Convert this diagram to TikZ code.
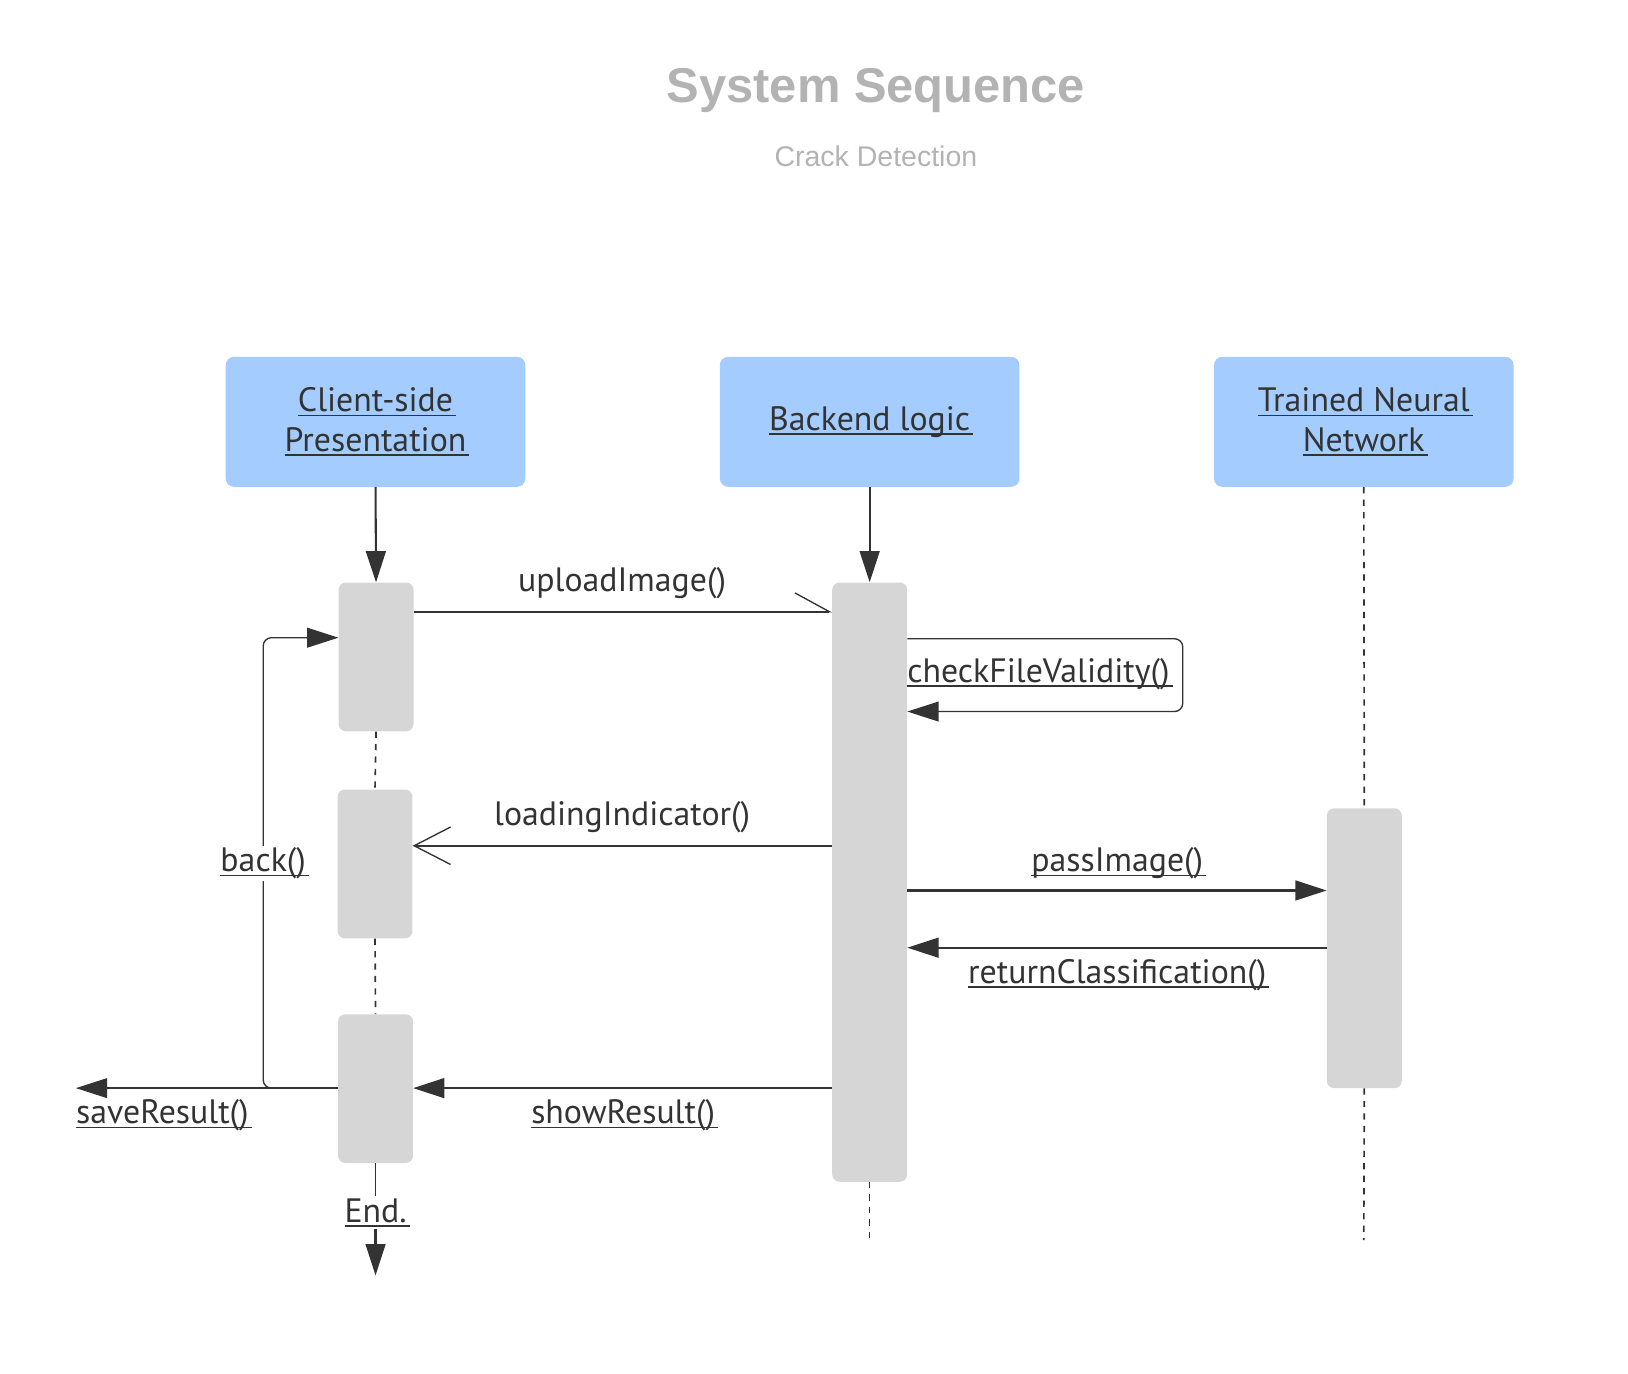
\documentclass[tikz,border=0pt]{standalone}
\usepackage{fontspec}
\setmainfont{PT Sans}
\newfontfamily\titlefont{Liberation Sans}
\usetikzlibrary{arrows.meta, positioning, calc}
\definecolor{seqblue}{RGB}{164, 204, 254}
\definecolor{seqgray}{RGB}{214, 214, 214}
\definecolor{seqink}{RGB}{51, 51, 51}
\definecolor{seqtitle}{RGB}{179, 179, 179}
\newcommand{\undr}[1]{\setbox0=\hbox{#1}\leavevmode\rlap{\rule[-4.5pt]{\dimexpr\wd0+3pt\relax}{1.6pt}}\box0}
\tikzstyle{actor} = [rectangle, rounded corners=8pt, minimum width=288pt, minimum height=125pt, fill=seqblue, text=seqink, align=center, font=\fontsize{32.5}{38}\selectfont]
\tikzstyle{activation} = [rectangle, rounded corners=7pt, minimum width=72pt, fill=seqgray, inner sep=0pt]
\tikzstyle{msg} = [line width=2pt, seqink, -{Triangle[length=30pt, width=19pt]}]
\tikzstyle{thinmsg} = [line width=1.3pt, seqink, rounded corners=8pt, -{Triangle[length=30pt, width=19pt]}]
\tikzstyle{lifeline} = [line width=1.6pt, seqink, dash pattern=on 6pt off 6pt]
\tikzstyle{msglabel} = [text=seqink, font=\fontsize{32.5}{38}\selectfont, inner sep=2pt]

\begin{document}
\begin{tikzpicture}[x=1pt, y=1pt]
\useasboundingbox (0,0) rectangle (1565,-1320);

% Title
\node[text=seqtitle, font=\titlefont\bfseries\fontsize{47}{56}\selectfont] (title) at (842,-87) {System Sequence};
\node[text=seqtitle, font=\titlefont\fontsize{27.4}{33}\selectfont] (subtitle) at (842,-150) {Crack Detection};

% Participants
\node[actor] (client) at (361,-405.5) {\undr{Client-side}\\\undr{Presentation}};
\node[actor] (backend) at (836,-405.5) {\undr{Backend logic}};
\node[actor] (network) at (1311,-405.5) {\undr{Trained Neural}\\\undr{Network}};

% Activation bars
\node[activation, minimum height=143pt] (cbar1) at (361.5,-631.5) {};
\node[activation, minimum height=143pt] (cbar2) at (360.5,-830.5) {};
\node[activation, minimum height=143pt] (cbar3) at (361,-1046.5) {};
\node[activation, minimum height=576pt] (bbar) at (836,-848) {};
\node[activation, minimum height=269pt] (nbar) at (1311.5,-911.5) {};

% Lifelines
\coordinate (bend) at (836,-1192);
\coordinate (nend) at (1311,-1192);
\coordinate (endtip) at (361,-1226);
\node[msglabel] (endlabel) at (361,-1166) {\undr{End.}};
\draw[msg] (client.south) -- (cbar1.north);
\draw[msg] (backend.south) -- (bbar.north);
\draw[lifeline] (cbar1.south) -- (cbar2.north);
\draw[lifeline] (cbar2.south) -- (cbar3.north);
\draw[line width=1.6pt, seqink] (cbar3.south) -- (endlabel.north);
\draw[msg] (endlabel.south) -- (endtip);
\draw[lifeline] (bbar.south) -- (bend);
\draw[lifeline] (network.south) -- (nbar.north);
\draw[lifeline] (nbar.south) -- (nend);

% Messages
\draw[line width=2pt, seqink, -{Straight Barb[left, length=33pt, width=36pt, line width=1.3pt]}] (cbar1.east |- 0,-588) -- (bbar.west |- 0,-588);
\node[msglabel] (upload) at (598,-561) {uploadImage()};

\draw[thinmsg] (bbar.east |- 0,-614) -| (1137,-649) |- (bbar.east |- 0,-684);
\node[msglabel, anchor=west] (check) at (870,-648) {\undr{checkFileValidity()}};

\draw[line width=2pt, seqink, -{Straight Barb[length=35pt, width=36pt, line width=1.3pt]}] (bbar.west |- 0,-813) -- (cbar2.east |- 0,-813);
\node[msglabel] (loading) at (598,-786) {loadingIndicator()};

\draw[msg] (bbar.east |- 0,-856) -- (nbar.west |- 0,-856);
\node[msglabel] (pass) at (1074,-830) {\undr{passImage()}};

\draw[msg] (nbar.west |- 0,-911) -- (bbar.east |- 0,-911);
\node[msglabel] (classify) at (1074,-937) {\undr{returnClassification()}};

\draw[msg] (bbar.west |- 0,-1046) -- (cbar3.east |- 0,-1046);
\node[msglabel] (show) at (599,-1072) {\undr{showResult()}};

\coordinate (savetip) at (73,-1046);
\draw[thinmsg] (cbar3.west |- 0,-1046) -- (savetip);
\node[msglabel, anchor=west] (save) at (71,-1072) {\undr{saveResult()}};

\draw[thinmsg] (cbar3.west |- 0,-1046) -| (253,-830) |- (cbar1.west |- 0,-613);
\node[msglabel, fill=white] (back) at (253,-830) {\undr{back()}};
\end{tikzpicture}
\end{document}
